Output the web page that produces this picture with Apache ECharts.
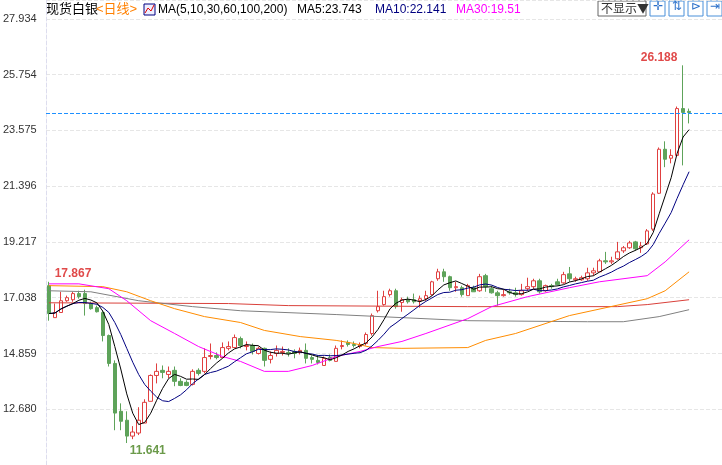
<!DOCTYPE html>
<html><head><meta charset="utf-8">
<script src="https://cdn.jsdelivr.net/npm/echarts@6/dist/echarts.min.js"></script>
<style>html,body{margin:0;padding:0;background:#fff}#c{width:722px;height:465px}</style>
</head><body><div id="c"></div>
<script>
// [open, close, low, high]
const candles = [
[17.51,16.42,16.14,17.66],[16.26,16.46,16.26,16.81],[16.46,16.92,16.46,17.27],[16.92,17.04,16.88,17.12],
[16.96,17.20,16.88,17.27],[17.20,17.08,17.00,17.31],[17.20,16.81,16.34,17.35],[16.81,16.61,16.57,16.88],
[16.65,16.49,16.46,16.73],[16.46,15.56,15.33,16.53],[15.56,14.47,14.35,15.60],[14.47,12.53,11.86,14.59],
[12.60,12.21,11.86,12.91],[12.25,11.63,11.36,12.60],[11.63,11.79,11.51,12.02],[11.75,12.25,11.67,12.76],
[12.14,12.95,12.14,13.07],[12.99,14.00,12.99,14.04],[14.00,14.16,13.69,14.47],[14.20,14.12,13.89,14.39],
[14.04,14.16,13.89,14.35],[14.20,13.77,13.58,14.35],[13.77,13.61,13.58,13.89],[13.73,13.61,13.58,13.81],
[13.65,14.16,13.61,14.24],[14.20,14.08,14.00,14.28],[14.16,14.70,14.08,15.06],[14.74,14.78,14.63,15.25],
[14.78,14.70,14.63,14.90],[14.70,15.09,14.70,15.29],[15.06,15.13,14.98,15.33],[15.09,15.48,15.06,15.60],
[15.44,15.17,15.06,15.52],[15.13,15.17,14.98,15.33],[15.17,14.94,14.82,15.25],[14.86,15.06,14.82,15.13],
[15.06,14.59,14.35,15.09],[14.63,14.78,14.47,14.94],[14.86,14.98,14.74,15.17],[14.90,14.94,14.78,15.13],
[14.90,14.86,14.74,15.06],[14.94,14.86,14.67,15.02],[14.90,14.98,14.82,15.09],[14.98,14.67,14.47,15.25],
[14.70,14.63,14.47,14.78],[14.59,14.51,14.43,14.78],[14.39,14.67,14.39,14.74],[14.70,14.59,14.55,14.82],
[14.55,15.06,14.55,15.17],[15.13,15.17,15.02,15.37],[15.29,15.21,15.13,15.37],[15.21,15.17,15.09,15.33],
[15.13,15.21,15.06,15.29],[15.25,15.60,15.17,15.68],[15.64,16.34,15.56,16.42],[16.53,16.69,16.46,17.31],
[16.77,17.08,16.73,17.31],[17.16,17.31,17.08,17.39],[17.31,16.69,16.61,17.39],[16.85,16.96,16.49,17.04],
[16.96,16.88,16.81,17.08],[16.96,16.88,16.81,17.20],[16.92,17.00,16.65,17.12],[17.00,17.12,16.92,17.31],
[17.16,17.66,17.12,17.70],[17.78,18.05,17.70,18.17],[18.05,17.86,17.66,18.17],[17.86,17.43,17.31,17.90],
[17.43,17.47,17.27,17.66],[17.43,17.16,17.08,17.51],[17.12,17.51,17.12,17.58],[17.43,17.27,17.27,17.51],
[17.31,17.86,17.27,17.97],[17.90,17.47,17.27,17.97],[17.39,17.23,17.20,17.51],[17.23,17.12,16.73,17.31],
[17.12,17.16,17.08,17.35],[17.27,17.23,17.16,17.39],[17.23,17.16,17.08,17.43],[17.16,17.31,17.12,17.58],
[17.39,17.47,17.31,17.82],[17.47,17.70,17.39,17.78],[17.70,17.27,17.20,17.78],[17.31,17.51,17.27,17.55],
[17.51,17.47,17.39,17.58],[17.66,17.55,17.51,17.78],[17.62,17.94,17.58,18.05],[17.97,17.78,17.66,18.24],
[17.74,17.78,17.66,17.86],[17.74,17.82,17.70,17.90],[17.78,18.01,17.70,18.21],[18.01,18.09,17.90,18.21],
[18.05,18.48,18.05,18.56],[18.48,18.44,18.36,18.83],[18.44,18.48,18.36,18.64],[18.56,18.83,18.52,19.22],
[18.87,18.99,18.79,19.06],[18.99,19.18,18.95,19.26],[19.22,18.95,18.87,19.26],[18.99,19.06,18.79,19.22],
[19.14,19.65,19.10,19.72],[19.72,21.09,19.65,21.16],[21.12,22.84,21.09,22.91],[22.84,22.45,22.14,23.15],
[22.49,22.60,22.29,22.84],[22.60,24.43,22.56,24.51],[24.43,24.28,22.21,26.12],[24.32,24.28,23.85,24.43]
];
// moving averages: [candle index, value]
const ma30 = [[0,17.58],[5,17.58],[10,17.39],[13,16.92],[17,16.14],[21,15.64],[25,15.13],[29,14.74],[32,14.55],[36,14.16],[40,14.16],[44,14.39],[48,14.74],[52,14.94],[55,15.13],[59,15.33],[63,15.64],[70,16.22],[74,16.69],[80,17.08],[87,17.43],[92,17.66],[100,17.90],[103,18.44],[107,19.30]];
const ma60 = [[0,17.51],[9,17.47],[13,17.27],[17,16.92],[21,16.61],[26,16.30],[32,16.07],[36,15.76],[42,15.52],[48,15.37],[51,15.25],[54,15.09],[59,15.06],[70,15.09],[73,15.37],[78,15.64],[87,16.34],[100,17.00],[103,17.31],[107,18.05]];
const ma100 = [[0,17.31],[7,17.27],[15,16.92],[24,16.69],[32,16.53],[48,16.38],[59,16.26],[70,16.14],[90,16.10],[96,16.10],[102,16.30],[107,16.57]];
const ma200 = [[0,16.84],[30,16.81],[40,16.73],[70,16.69],[95,16.69],[100,16.77],[107,16.96]];
const yTicks = ['12.680','14.859','17.038','19.217','21.396','23.575','25.754','27.934'];
const lastPrice = 24.24;

function ma(n){return candles.map((c,i)=>{const s=candles.slice(Math.max(0,i-n+1),i+1);return +(s.reduce((a,b)=>a+b[1],0)/s.length).toFixed(3);});}
const cats = candles.map((c,i)=>String(i)).concat(['a','b','c','d','e']);
const chart = echarts.init(document.getElementById('c'));
const t0 = +yTicks[0], step = (+yTicks[7]-t0)/7;
function tickLabel(v){const k=Math.round((v-t0)/step);return yTicks[k]||'';}
const hdr = {fontSize:13,fontFamily:'Liberation Sans, Noto Sans CJK SC'};
const hdr2 = {fontSize:12,fontFamily:'Liberation Sans'};
chart.setOption({
  animation:false,
  grid:{left:45,right:0,top:0,bottom:-2},
  xAxis:{type:'category',data:cats,boundaryGap:true,axisLine:{show:false},axisTick:{show:false},axisLabel:{show:false},splitLine:{show:false}},
  yAxis:{type:'value',min:t0-step,max:28.673,interval:step,
    axisLine:{show:true,lineStyle:{color:'#dde',type:'dashed'}},axisTick:{show:false},
    axisLabel:{align:'left',margin:43,color:'#333',fontSize:11,fontFamily:'Arial, Liberation Sans',showMinLabel:false,showMaxLabel:false,formatter:tickLabel},
    splitLine:{lineStyle:{color:'#e6e6e6',type:'dashed'}}},
  series:[
    {type:'line',data:ma200,symbol:'none',lineStyle:{color:'#d9403a',width:1}},
    {type:'line',data:ma100,symbol:'none',lineStyle:{color:'#808080',width:1}},
    {type:'line',data:ma60,symbol:'none',lineStyle:{color:'#ff8c00',width:1}},
    {type:'line',data:ma30,symbol:'none',lineStyle:{color:'#ff00ff',width:1}},
    {type:'line',data:ma(10),symbol:'none',lineStyle:{color:'#000080',width:1}},
    {type:'line',data:ma(5),symbol:'none',lineStyle:{color:'#000',width:1}},
    {type:'candlestick',data:candles,barWidth:4,
      itemStyle:{color:'#fff',color0:'#5ea35a',borderColor:'#e04040',borderColor0:'#5ea35a',borderWidth:1},
      markLine:{symbol:'none',silent:true,label:{show:false},lineStyle:{color:'#1e90ff',type:'dashed',width:1},data:[{yAxis:lastPrice}]},
      markPoint:{symbol:'circle',symbolSize:0,data:[
        {coord:[0,candles[0][3]],label:{show:true,formatter:'17.867',offset:[24,-8],color:'#e04a4a',fontWeight:'bold',fontSize:12}},
        {coord:[13,candles[13][2]],label:{show:true,formatter:'11.641',offset:[21,8],color:'#6b9a4a',fontWeight:'bold',fontSize:12}},
        {coord:[106,candles[106][3]],label:{show:true,formatter:'26.188',offset:[-24,-8],color:'#e04a4a',fontWeight:'bold',fontSize:12}}
      ]}}
  ],
  graphic:[
    {type:'text',left:46,top:3,style:Object.assign({text:'现货白银',fill:'#000'},hdr)},
    {type:'text',left:96,top:3,style:Object.assign({text:'<日线>',fill:'#ff8000'},hdr)},
    {type:'rect',shape:{x:144,y:4,width:11,height:11},style:{fill:'#eef',stroke:'#000080'}},
    {type:'polyline',shape:{points:[[145,13],[148,8],[151,11],[154,5]]},style:{stroke:'#d00',fill:null}},
    {type:'text',left:158,top:4,style:Object.assign({text:'MA(5,10,30,60,100,200)',fill:'#000'},hdr2)},
    {type:'text',left:297,top:4,style:Object.assign({text:'MA5:23.743',fill:'#000'},hdr2)},
    {type:'text',left:375,top:4,style:Object.assign({text:'MA10:22.141',fill:'#000080'},hdr2)},
    {type:'text',left:456,top:4,style:Object.assign({text:'MA30:19.51',fill:'#ff00ff'},hdr2)},
    {type:'rect',shape:{x:598,y:1,width:48,height:15},style:{fill:'#fff',stroke:'#666'}},
    {type:'text',left:601,top:2,style:{text:'不显示▼',fill:'#333',fontSize:12,fontFamily:'Noto Sans CJK SC'}},
    {type:'rect',shape:{x:650,y:1,width:15,height:15},style:{fill:'#fff',stroke:'#4a90d9'}},
    {type:'rect',shape:{x:669,y:1,width:15,height:15},style:{fill:'#fff',stroke:'#4a90d9'}},
    {type:'rect',shape:{x:688,y:1,width:15,height:15},style:{fill:'#fff',stroke:'#4a90d9'}},
    {type:'rect',shape:{x:707,y:1,width:15,height:15},style:{fill:'#fff',stroke:'#4a90d9'}},
    {type:'text',left:653,top:1,style:{text:'✛',fill:'#2a6fc9',fontSize:12}},
    {type:'text',left:672,top:1,style:{text:'⇅',fill:'#2a6fc9',fontSize:12}},
    {type:'text',left:691,top:1,style:{text:'⊳',fill:'#2a6fc9',fontSize:12}},
    {type:'text',left:710,top:1,style:{text:'⇥',fill:'#2a6fc9',fontSize:12}}
  ]
});
</script></body></html>
